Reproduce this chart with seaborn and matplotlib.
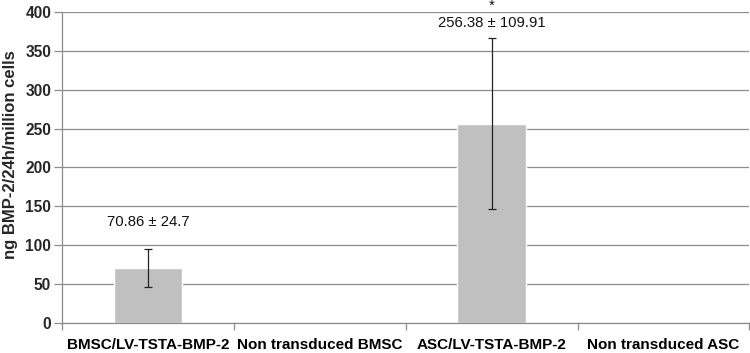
import numpy as np
import pandas as pd
import matplotlib
matplotlib.use('Agg')
import matplotlib.pyplot as plt
import seaborn as sns

# values
groups = ['BMSC/LV-TSTA-BMP-2', 'Non transduced BMSC', 'ASC/LV-TSTA-BMP-2', 'Non transduced ASC']
means = [70.86, 0.0, 256.38, 0.0]
errors = [24.7, 0.0, 109.91, 0.0]
labels = ['70.86 \u00b1 24.7', '', '256.38 \u00b1 109.91', '']
stars = ['', '', '*', '']

sns.set_theme(style='white')
plt.rcParams['font.family'] = ['Liberation Sans', 'DejaVu Sans']

df = pd.DataFrame({'group': groups, 'value': means})

fig, ax = plt.subplots(figsize=(7.5, 3.53), dpi=100)
fig.subplots_adjust(left=0.083, right=0.999, top=0.966, bottom=0.085)

sns.barplot(data=df, x='group', y='value', color='#c0c0c0', width=0.4,
            saturation=1, ax=ax, zorder=2)

x = np.arange(len(groups))
err_mask = np.array(errors) > 0
ax.errorbar(x[err_mask], np.array(means)[err_mask], yerr=np.array(errors)[err_mask],
            fmt='none', ecolor='#222222', elinewidth=0.9, capsize=3, capthick=0.9, zorder=3)

# text above bars
label_gap = [25, 0, 10, 0]
for i, (m, e, lab, st) in enumerate(zip(means, errors, labels, stars)):
    if lab:
        ax.text(i, m + e + label_gap[i], lab, ha='center', va='bottom',
                fontsize=10.7, color='#111111')
    if st:
        ax.text(i, m + e + label_gap[i] + 26, st, ha='center', va='baseline',
                fontsize=10.7, color='#111111', clip_on=False)

ax.set_ylim(0, 400)
ax.set_xlim(-0.5, len(groups) - 0.5)
ax.set_yticks(np.arange(0, 401, 50))
ax.yaxis.grid(True, color='#8c8c8c', linewidth=0.9)
ax.set_axisbelow(True)

ax.set_xlabel('')
ax.set_ylabel('ng BMP-2/24h/million cells', fontsize=12, fontweight='bold')
ax.yaxis.set_label_coords(-0.064, 0.54)

for lab in ax.get_xticklabels() + ax.get_yticklabels():
    lab.set_fontweight('bold')
ax.tick_params(axis='x', length=0, labelsize=11, pad=11, colors='black')
ax.tick_params(axis='y', length=6, width=0.9, color='#8c8c8c', labelsize=11.2, pad=2, left=True)

# category separators on the x axis
ax.set_xticks(np.arange(len(groups) + 1) - 0.5, minor=True)
ax.tick_params(axis='x', which='minor', bottom=True, length=5, width=0.9, color='#8c8c8c')

for side in ['top', 'right']:
    ax.spines[side].set_visible(False)
for side in ['left', 'bottom']:
    ax.spines[side].set_color('#8c8c8c')
    ax.spines[side].set_linewidth(0.9)

plt.savefig('out.png', dpi=100)
